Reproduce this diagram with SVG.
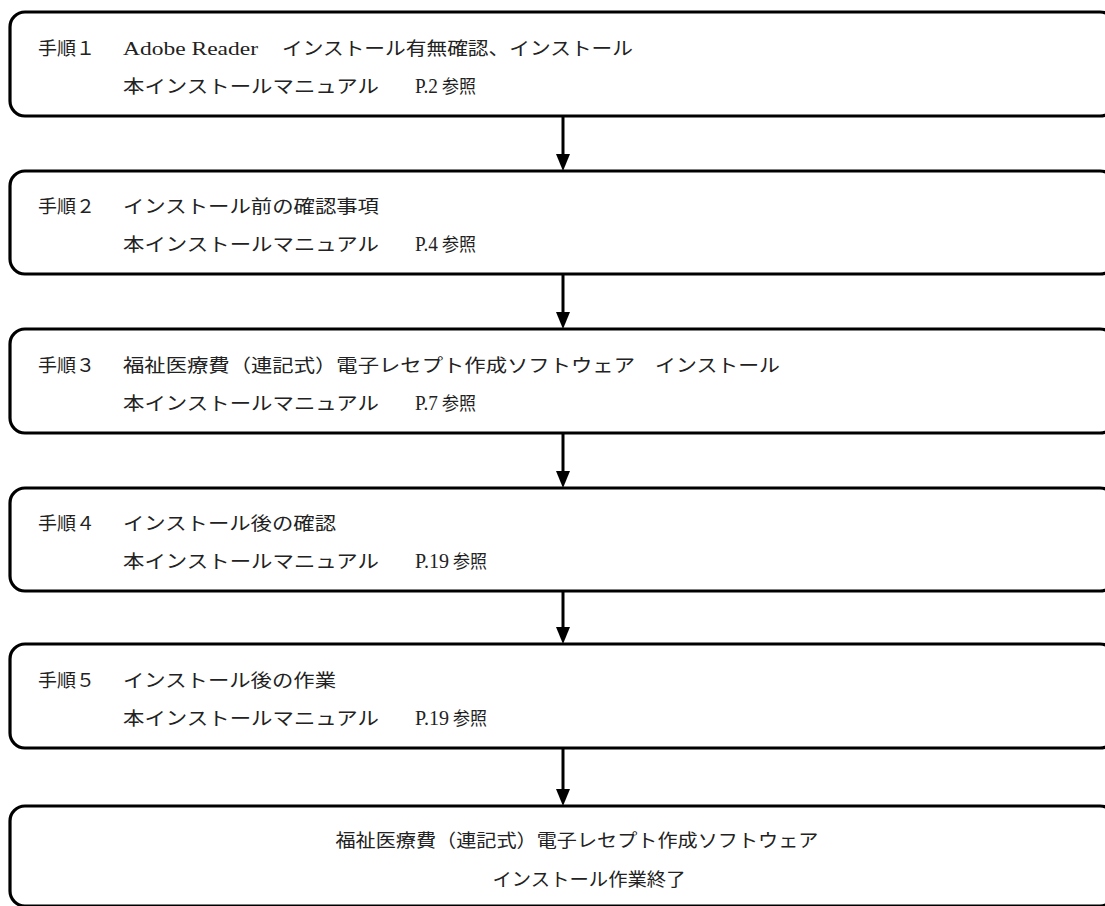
<svg xmlns="http://www.w3.org/2000/svg" width="1105" height="906" viewBox="0 0 1105 906">
<style>
.box{fill:#fff;stroke:#000;stroke-width:3.2}
.t{font-family:"Liberation Serif","Noto Sans CJK JP",serif;font-size:18.5px;fill:#222}
.p{font-family:"Liberation Serif",serif;font-size:21px;fill:#222}
.conn{stroke:#000;stroke-width:3;fill:none}
.head{fill:#000}
</style>
<rect width="1105" height="906" fill="#fff"/>
<g id="connectors">
<line class="conn" x1="563" y1="117" x2="563" y2="156"/><polygon class="head" points="556,154 570,154 563,171"/>
<line class="conn" x1="563" y1="275" x2="563" y2="314"/><polygon class="head" points="556,312 570,312 563,329"/>
<line class="conn" x1="563" y1="434" x2="563" y2="473"/><polygon class="head" points="556,471 570,471 563,488"/>
<line class="conn" x1="563" y1="592" x2="563" y2="629"/><polygon class="head" points="556,627 570,627 563,644"/>
<line class="conn" x1="563" y1="749" x2="563" y2="791"/><polygon class="head" points="556,789 570,789 563,806"/>
</g>
<g id="step1">
<rect class="box" x="10" y="12" width="1105" height="104" rx="15"/>
<text class="t" x="38" y="55" textLength="57" lengthAdjust="spacingAndGlyphs">手順１</text>
<text class="t" x="123" y="55" textLength="135" lengthAdjust="spacingAndGlyphs">Adobe Reader</text>
<text class="t" x="282" y="55" textLength="351" lengthAdjust="spacingAndGlyphs">インストール有無確認、インストール</text>
<text class="t" x="123" y="93" textLength="256" lengthAdjust="spacingAndGlyphs">本インストールマニュアル</text>
<text class="p" x="415" y="93" textLength="23" lengthAdjust="spacingAndGlyphs">P.2</text>
<text class="t" x="442" y="93" textLength="34" lengthAdjust="spacingAndGlyphs">参照</text>
</g>
<g id="step2">
<rect class="box" x="10" y="171" width="1105" height="103" rx="15"/>
<text class="t" x="38" y="213" textLength="57" lengthAdjust="spacingAndGlyphs">手順２</text>
<text class="t" x="123" y="213" textLength="256" lengthAdjust="spacingAndGlyphs">インストール前の確認事項</text>
<text class="t" x="123" y="251" textLength="256" lengthAdjust="spacingAndGlyphs">本インストールマニュアル</text>
<text class="p" x="415" y="251" textLength="23" lengthAdjust="spacingAndGlyphs">P.4</text>
<text class="t" x="442" y="251" textLength="34" lengthAdjust="spacingAndGlyphs">参照</text>
</g>
<g id="step3">
<rect class="box" x="10" y="329" width="1105" height="104" rx="15"/>
<text class="t" x="38" y="372" textLength="57" lengthAdjust="spacingAndGlyphs">手順３</text>
<text class="t" x="123" y="372" textLength="512" lengthAdjust="spacingAndGlyphs">福祉医療費（連記式）電子レセプト作成ソフトウェア</text>
<text class="t" x="655" y="372" textLength="125" lengthAdjust="spacingAndGlyphs">インストール</text>
<text class="t" x="123" y="410" textLength="256" lengthAdjust="spacingAndGlyphs">本インストールマニュアル</text>
<text class="p" x="415" y="410" textLength="23" lengthAdjust="spacingAndGlyphs">P.7</text>
<text class="t" x="442" y="410" textLength="34" lengthAdjust="spacingAndGlyphs">参照</text>
</g>
<g id="step4">
<rect class="box" x="10" y="488" width="1105" height="103" rx="15"/>
<text class="t" x="38" y="530" textLength="57" lengthAdjust="spacingAndGlyphs">手順４</text>
<text class="t" x="123" y="530" textLength="213" lengthAdjust="spacingAndGlyphs">インストール後の確認</text>
<text class="t" x="123" y="568" textLength="256" lengthAdjust="spacingAndGlyphs">本インストールマニュアル</text>
<text class="p" x="415" y="568" textLength="34" lengthAdjust="spacingAndGlyphs">P.19</text>
<text class="t" x="453" y="568" textLength="34" lengthAdjust="spacingAndGlyphs">参照</text>
</g>
<g id="step5">
<rect class="box" x="10" y="644" width="1105" height="104" rx="15"/>
<text class="t" x="38" y="687" textLength="57" lengthAdjust="spacingAndGlyphs">手順５</text>
<text class="t" x="123" y="687" textLength="213" lengthAdjust="spacingAndGlyphs">インストール後の作業</text>
<text class="t" x="123" y="725" textLength="256" lengthAdjust="spacingAndGlyphs">本インストールマニュアル</text>
<text class="p" x="415" y="725" textLength="34" lengthAdjust="spacingAndGlyphs">P.19</text>
<text class="t" x="453" y="725" textLength="34" lengthAdjust="spacingAndGlyphs">参照</text>
</g>
<g id="end">
<rect class="box" x="10" y="806" width="1105" height="100" rx="15"/>
<text class="t" x="577" y="847" text-anchor="middle" textLength="483" lengthAdjust="spacingAndGlyphs">福祉医療費（連記式）電子レセプト作成ソフトウェア</text>
<text class="t" x="589" y="886" text-anchor="middle" textLength="193" lengthAdjust="spacingAndGlyphs">インストール作業終了</text>
</g>
</svg>
